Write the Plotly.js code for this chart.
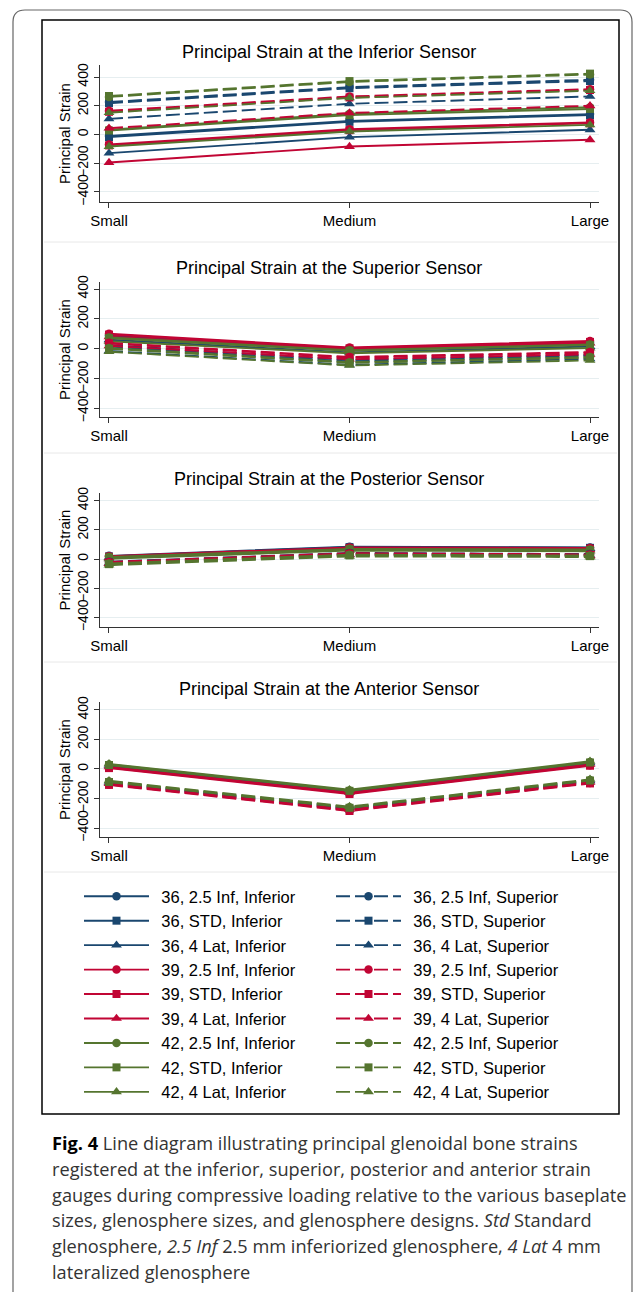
<!DOCTYPE html>
<html><head><meta charset="utf-8">
<script src="https://cdn.plot.ly/plotly-3.0.1.min.js"></script>
<style>html,body{margin:0;padding:0;background:#fff}#chart{width:635px;height:1293px}</style>
</head><body><div id="chart"></div>
<script>
const categories = ["Small", "Medium", "Large"];
const sizes = ["36", "39", "42"];
const designs = ["2.5 Inf", "STD", "4 Lat"];
const positions = ["Inferior", "Superior"];
const panelTitles = [
  "Principal Strain at the Inferior Sensor",
  "Principal Strain at the Superior Sensor",
  "Principal Strain at the Posterior Sensor",
  "Principal Strain at the Anterior Sensor"
];
const yTicks = [-400, -200, 0, 200, 400];

// series order in each array: 36 2.5 Inf, 36 STD, 36 4 Lat, 39 2.5 Inf, 39 STD, 39 4 Lat, 42 2.5 Inf, 42 STD, 42 4 Lat
const inferiorSensorInf = [
  [-10, 95, 142], [-18, 88, 135], [-130, -18, 33],
  [-70, 37, 84], [-76, 30, 78], [-195, -84, -37],
  [33, 145, 190], [28, 135, 178], [-84, 21, 67]
];
const inferiorSensorSup = [
  [226, 330, 381], [218, 322, 372], [109, 214, 265],
  [165, 265, 316], [158, 258, 310], [44, 150, 200],
  [262, 366, 418], [268, 372, 424], [152, 255, 305]
];
const superiorSensorInf = [
  [88, -3, 40], [82, -8, 33], [60, -25, 15],
  [100, 8, 52], [95, 3, 46], [80, -5, 38],
  [75, -10, 28], [70, -14, 24], [50, -30, 5]
];
const superiorSensorSup = [
  [25, -75, -40], [15, -85, -48], [-15, -108, -68],
  [40, -55, -22], [35, -60, -28], [20, -70, -38],
  [5, -90, -55], [0, -95, -60], [-20, -112, -78]
];
const posteriorSensorInf = [
  [22, 85, 80], [18, 82, 77], [12, 78, 72],
  [20, 80, 76], [15, 75, 70], [8, 68, 63],
  [14, 70, 66], [10, 66, 60], [2, 58, 54]
];
const posteriorSensorSup = [
  [-18, 42, 34], [-22, 38, 30], [-28, 32, 26],
  [-20, 40, 32], [-25, 35, 28], [-32, 28, 22],
  [-30, 30, 24], [-35, 25, 20], [-42, 18, 14]
];
const anteriorSensorInf = [
  [20, -155, 37], [17, -158, 34], [25, -150, 42],
  [10, -165, 26], [6, -170, 22], [14, -160, 31],
  [30, -145, 47], [27, -148, 44], [35, -140, 52]
];
const anteriorSensorSup = [
  [-95, -270, -85], [-98, -273, -88], [-90, -265, -80],
  [-105, -281, -95], [-108, -285, -98], [-100, -276, -90],
  [-85, -260, -75], [-88, -263, -78], [-80, -255, -70]
];

const captionLines = [
  "<b style='color:#000'>Fig. 4</b> Line diagram illustrating principal glenoidal bone strains",
  "registered at the inferior, superior, posterior and anterior strain",
  "gauges during compressive loading relative to the various baseplate",
  "sizes, glenosphere sizes, and glenosphere designs. <i>Std</i> Standard",
  "glenosphere, <i>2.5 Inf</i> 2.5 mm inferiorized glenosphere, <i>4 Lat</i> 4 mm",
  "lateralized glenosphere"
];

const sensorData = [
  [inferiorSensorInf, inferiorSensorSup],
  [superiorSensorInf, superiorSensorSup],
  [posteriorSensorInf, posteriorSensorSup],
  [anteriorSensorInf, anteriorSensorSup]
];

// styling
const W = 635, H = 1293;
const fx = px => px / W;
const fy = px => 1 - px / H;
const sizeColors = ["#1a476f", "#c10534", "#55752f"];
const designSymbols = ["circle", "square", "triangle-up"];
const designMarkerSize = [8.5, 8, 9.5];
const posDash = ["solid", "14px,5px"];
const panelPx = [[65, 202], [282, 417], [493, 627], [702, 837]];
const yRanges = [[-470, 484], [-457, 447], [-466, 453], [-461, 454]];
const titleY = [52, 268, 479, 689];
const FONT = "Liberation Sans, Arial, Helvetica, sans-serif";
const LEGEND_PAD = "\u00a0\u2006";

const traces = [];
for (let s = 0; s < 4; s++) {
  const axn = s === 0 ? "" : String(s + 1);
  for (let p = 0; p < 2; p++) {
    for (let i = 0; i < 9; i++) {
      const sz = Math.floor(i / 3), d = i % 3;
      const name = sizes[sz] + ", " + designs[d] + ", " + positions[p];
      traces.push({
        type: "scatter", mode: "lines+markers",
        x: categories, y: sensorData[s][p][i],
        xaxis: "x" + axn, yaxis: "y" + axn,
        name: LEGEND_PAD + name, legendgroup: name,
        legend: p === 0 ? "legend" : "legend2",
        showlegend: s === 0,
        line: {color: sizeColors[sz], width: 1.9, dash: posDash[p]},
        marker: {color: sizeColors[sz], symbol: designSymbols[d], size: designMarkerSize[d], line: {width: 0}},
        hoverinfo: "skip"
      });
    }
  }
}

const layout = {
  width: W, height: H,
  margin: {l: 0, r: 0, t: 0, b: 0},
  paper_bgcolor: "#fff", plot_bgcolor: "#fff",
  font: {family: FONT, color: "#000", size: 15},
  showlegend: true,
  annotations: [], shapes: []
};

const legendCommon = {
  orientation: "v", traceorder: "grouped", tracegroupgap: 0,
  font: {family: FONT, size: 16.5, color: "#000"},
  itemwidth: 65, bgcolor: "rgba(0,0,0,0)", borderwidth: 0,
  xanchor: "left", yanchor: "top", itemclick: false
};
layout.legend = Object.assign({}, legendCommon, {x: fx(79), y: fy(879)});
layout.legend2 = Object.assign({}, legendCommon, {x: fx(331), y: fy(879)});

for (let s = 0; s < 4; s++) {
  const axn = s === 0 ? "" : String(s + 1);
  layout["xaxis" + axn] = {
    domain: [fx(100), fx(599)], anchor: "y" + axn,
    type: "category", range: [-0.0374, 2.0374],
    showgrid: false, zeroline: false, showline: true, linecolor: "#333", linewidth: 1,
    ticks: "outside", ticklen: 5, tickcolor: "#333",
    tickfont: {family: FONT, size: 15, color: "#000"}, fixedrange: true
  };
  layout["yaxis" + axn] = {
    domain: [fy(panelPx[s][1]), fy(panelPx[s][0])], anchor: "x" + axn,
    range: yRanges[s], tickmode: "array", tickvals: yTicks,
    tickangle: -90, showgrid: true, gridcolor: "#e6eef0", gridwidth: 1,
    zeroline: false, showline: true, linecolor: "#333", linewidth: 1,
    ticks: "outside", ticklen: 5, tickcolor: "#333",
    tickfont: {family: FONT, size: 14, color: "#000"},
    title: {text: "Principal Strain", font: {family: FONT, size: 15, color: "#000"}, standoff: 1},
    fixedrange: true
  };
  layout.annotations.push({
    xref: "paper", yref: "paper", x: fx(329), y: fy(titleY[s]),
    xanchor: "center", yanchor: "middle", showarrow: false,
    text: panelTitles[s], font: {family: FONT, size: 18, color: "#000"}
  });
}

// caption
const capY = [1143, 1169, 1195, 1220, 1246, 1272];
captionLines.forEach((t, i) => {
  layout.annotations.push({
    xref: "paper", yref: "paper", x: fx(50), y: fy(capY[i]),
    xanchor: "left", yanchor: "middle", showarrow: false, align: "left",
    text: t, font: {family: "Open Sans, Noto Sans, sans-serif", size: 18.2, color: "#333"}
  });
});

// frames
layout.shapes.push({
  type: "path", xref: "paper", yref: "paper", layer: "below",
  path: `M ${fx(13)},${fy(1292)} L ${fx(13)},${fy(22)} Q ${fx(13)},${fy(10)} ${fx(25)},${fy(10)} L ${fx(620)},${fy(10)} Q ${fx(632)},${fy(10)} ${fx(632)},${fy(22)} L ${fx(632)},${fy(1292)}`,
  line: {color: "#666", width: 1.2}
});
layout.shapes.push({
  type: "rect", xref: "paper", yref: "paper", layer: "below",
  x0: fx(42), x1: fx(619), y0: fy(1114), y1: fy(20),
  line: {color: "#000", width: 1.5}
});
[242, 453, 662, 872].forEach(py => {
  layout.shapes.push({
    type: "line", xref: "paper", yref: "paper", layer: "below",
    x0: fx(44), x1: fx(617), y0: fy(py), y1: fy(py),
    line: {color: "#e8e8e8", width: 1}
  });
});

Plotly.newPlot("chart", traces, layout, {staticPlot: true, displayModeBar: false});
</script>
</body></html>
